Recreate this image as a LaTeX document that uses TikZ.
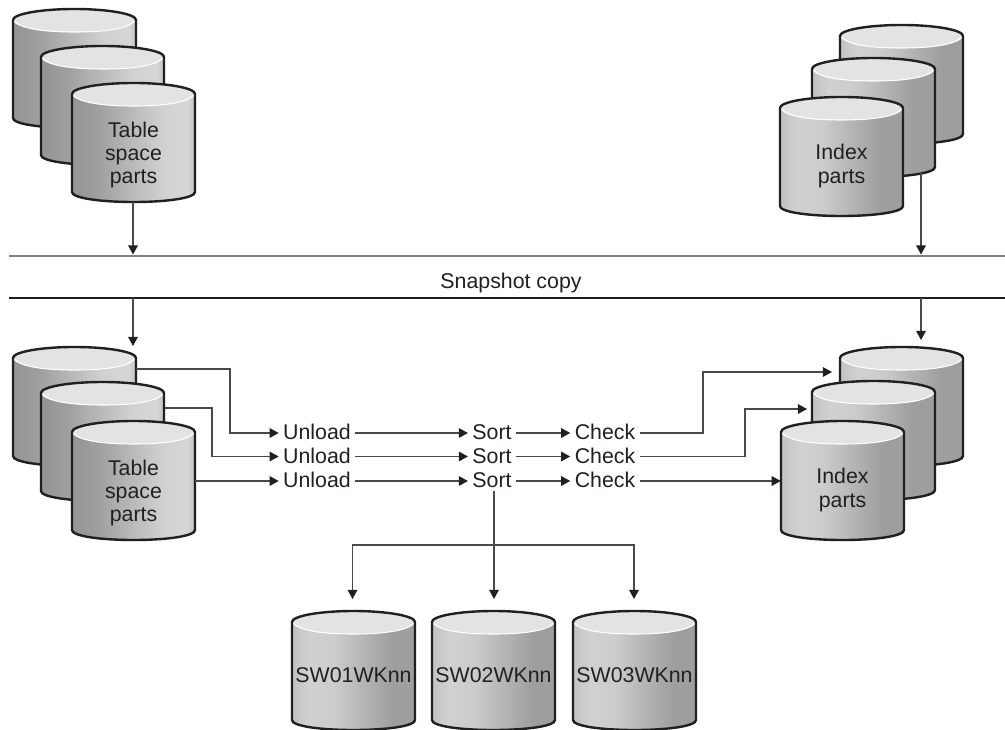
\documentclass[tikz,border=0pt]{standalone}
\usepackage{fontspec}
\setmainfont{Liberation Sans}
\usetikzlibrary{arrows.meta,calc,shadings}
\definecolor{inkc}{HTML}{231F20}
\definecolor{linec}{HTML}{4A4A4A}
\pgfdeclarehorizontalshading{cylLeft}{100bp}{color(0bp)=(black!42);color(25bp)=(black!42);color(35bp)=(black!38);color(62bp)=(black!18);color(72bp)=(black!16);color(75bp)=(black!24);color(100bp)=(black!24)}
\pgfdeclarehorizontalshading{cylRight}{100bp}{color(0bp)=(black!24);color(25bp)=(black!24);color(32bp)=(black!18);color(42bp)=(black!20);color(66bp)=(black!38);color(75bp)=(black!38);color(100bp)=(black!38)}
\tikzset{
  x=0.75pt,y=-0.75pt,
  cylbox/.style={minimum width=92.25pt,minimum height=89.25pt,inner sep=0pt,draw=none},
  cyltext/.style={align=center,inner sep=0pt,text=inkc,font=\fontsize{16}{17.6}\selectfont},
  flowlabel/.style={inner ysep=1pt,inner xsep=3.2pt,text=inkc,font=\fontsize{16}{18}\selectfont,text height=11.5pt,text depth=1.5pt},
  conn/.style={draw=linec,line width=0.9pt,-{Triangle[length=6.8pt,width=7.2pt,color=inkc]}},
  rulethin/.style={draw=black!50,line width=0.8pt},
  rulethick/.style={draw=inkc,line width=2.2pt},
}
% name, left x, top y, shading, label, text offset
\newcommand{\dbcyl}[6]{%
  \begin{scope}[shift={(#2+61.5,#3+11)}]
    \shade[shading=#4] (-61.5,0) .. controls (-61.5,-6) and (-34,-11) .. (0,-11) .. controls (34,-11) and (61.5,-6) .. (61.5,0) -- (61.5,98) .. controls (61.5,104) and (34,108) .. (0,108) .. controls (-34,108) and (-61.5,104) .. (-61.5,98) -- cycle;
    \fill[black!11] (-61.5,0) .. controls (-61.5,-6) and (-34,-11) .. (0,-11) .. controls (34,-11) and (61.5,-6) .. (61.5,0) .. controls (61.5,7) and (34,12) .. (0,12) .. controls (-34,12) and (-61.5,7) .. (-61.5,0) -- cycle;
    \draw[white,line width=0.8pt] (-60,1) .. controls (-55,8) and (-34,12) .. (0,12) .. controls (34,12) and (55,8) .. (60,1);
    \draw[inkc,line width=1.8pt,line join=round] (-61.5,0) .. controls (-61.5,-6) and (-34,-11) .. (0,-11) .. controls (34,-11) and (61.5,-6) .. (61.5,0) -- (61.5,98) .. controls (61.5,104) and (34,108) .. (0,108) .. controls (-34,108) and (-61.5,104) .. (-61.5,98) -- cycle;
    \node[cylbox] (#1) at (0,48.5) {};
    \node[cyltext] (#1-t) at (0,48.5+#6) {#5};
  \end{scope}}
\begin{document}
\begin{tikzpicture}
\useasboundingbox (0,0) rectangle (1005,730);
\fill[white] (0,0) rectangle (1005,730);
% upper left stack
\dbcyl{ulA}{13}{9}{cylLeft}{}{0}
\dbcyl{ulB}{41}{46}{cylLeft}{}{0}
\dbcyl{ulC}{72}{83}{cylLeft}{Table\\space\\parts}{12.5}
% upper right stack
\dbcyl{urA}{840}{25}{cylRight}{}{0}
\dbcyl{urB}{812}{58}{cylRight}{}{0}
\dbcyl{urC}{780}{97}{cylRight}{Index\\parts}{9.5}
% rules
\coordinate (r1a) at (9,256); \coordinate (r1b) at (1005,256);
\coordinate (r2a) at (9,298); \coordinate (r2b) at (1005,298);
\draw[rulethin] (r1a) -- (r1b);
\draw[rulethick] (r2a) -- (r2b);
\node[cyltext] (snap) at (511,282.5) {Snapshot copy};
% lower left stack
\dbcyl{llA}{13}{347}{cylLeft}{}{0}
\dbcyl{llB}{41}{382}{cylLeft}{}{0}
\dbcyl{llC}{72}{421}{cylLeft}{Table\\space\\parts}{12.5}
% lower right stack
\dbcyl{lrA}{840}{347}{cylRight}{}{0}
\dbcyl{lrB}{812}{381}{cylRight}{}{0}
\dbcyl{lrC}{781}{421}{cylRight}{Index\\parts}{9.5}
% work data sets
\dbcyl{swA}{292}{611}{cylRight}{SW01WKnn}{5}
\dbcyl{swB}{432}{611}{cylRight}{SW02WKnn}{5}
\dbcyl{swC}{573}{611}{cylRight}{SW03WKnn}{5}
% flow labels
\node[flowlabel] (u1) at (317,433) {Unload};
\node[flowlabel] (u2) at (317,456.5) {Unload};
\node[flowlabel] (u3) at (317,481) {Unload};
\node[flowlabel] (s1) at (492,433) {Sort};
\node[flowlabel] (s2) at (492,456.5) {Sort};
\node[flowlabel] (s3) at (492,481) {Sort};
\node[flowlabel] (c1) at (605,433) {Check};
\node[flowlabel] (c2) at (605,456.5) {Check};
\node[flowlabel] (c3) at (605,481) {Check};
% vertical copies
\coordinate (a1) at (133,254.5); \coordinate (a2) at (921,254.5);
\coordinate (a3) at (133,346); \coordinate (a4) at (921,340);
\coordinate (a2s) at (921,173);
\draw[conn] (ulC.south -| a1) -- (a1);
\draw[conn] (a2s) -- (a2);
\draw[conn] (r2a -| a3) -- (a3);
\draw[conn] (r2a -| a4) -- (a4);
% unload
\coordinate (o1) at (136,369); \coordinate (o2) at (165,408);
\coordinate (b1) at (230,433); \coordinate (b2) at (212,456.5);
\draw[conn] (o1) -| (b1) -- (u1.west);
\draw[conn] (o2) -| (b2) -- (u2.west);
\draw[conn] (llC.east |- u3) -- (u3.west);
\foreach \i in {1,2,3}{
  \draw[conn] (u\i.east) -- (s\i.west);
  \draw[conn] (s\i.east) -- (c\i.west);
}
% check to index parts
\coordinate (t1) at (832,372); \coordinate (t2) at (807,409);
\coordinate (k1) at (703,433); \coordinate (k2) at (745,456.5);
\draw[conn] (c1.east) -- (k1) |- (t1);
\draw[conn] (c2.east) -- (k2) |- (t2);
\draw[conn] (c3.east) -- (lrC.west |- c3);
% sort to work data sets
\coordinate (h) at (494,545);
\coordinate (d1) at (352.5,599); \coordinate (d2) at (494,599); \coordinate (d3) at (634,599);
\draw[conn] (s3.south -| h) -- (d2);
\draw[conn] (h) -| (d1);
\draw[conn] (h) -| (d3);
\end{tikzpicture}
\end{document}
